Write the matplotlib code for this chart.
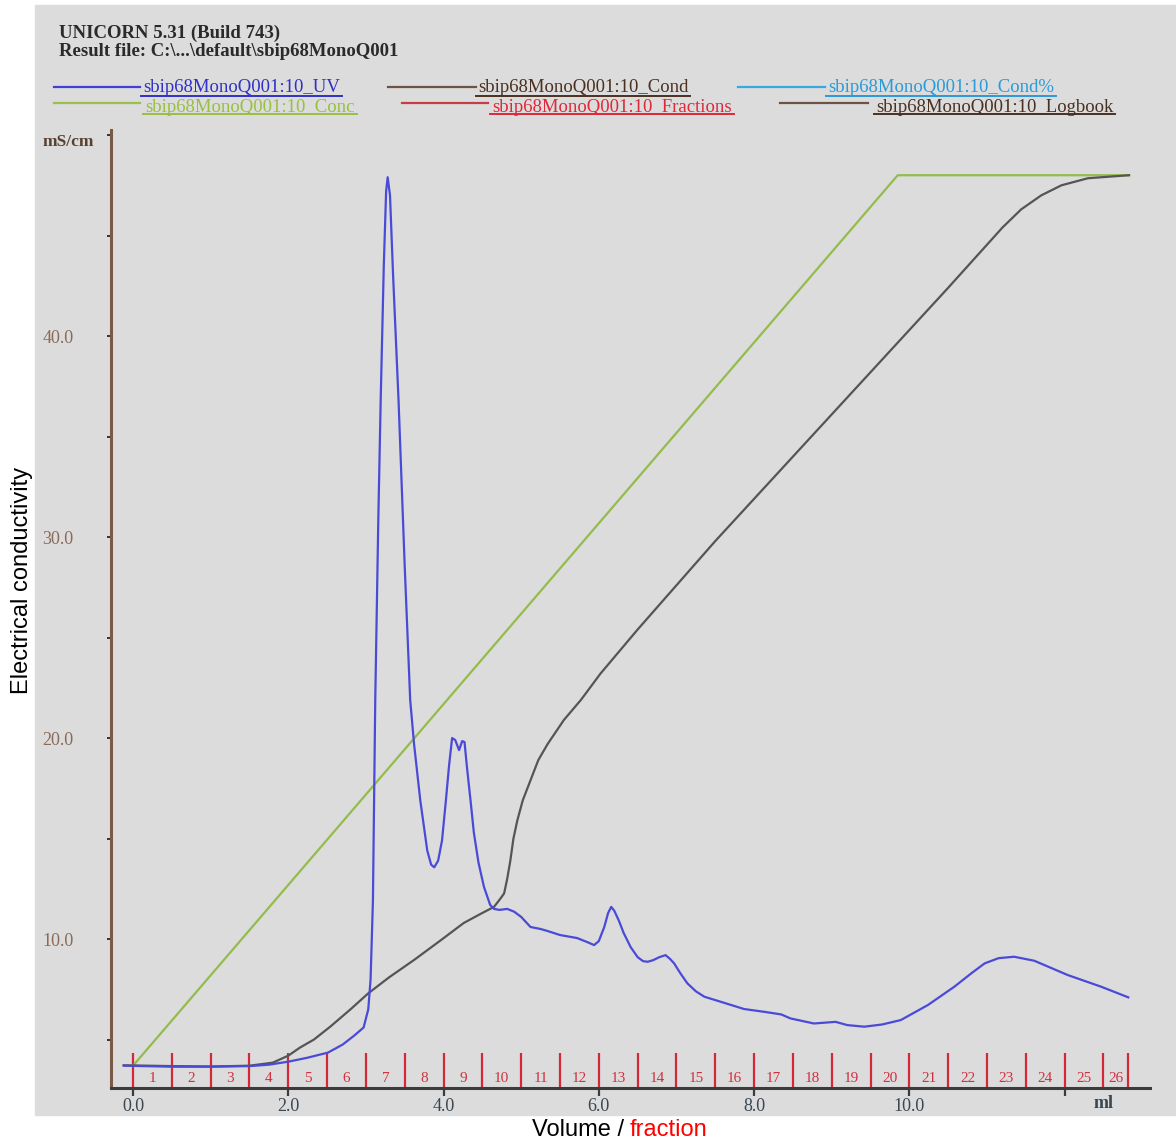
import matplotlib
matplotlib.use("Agg")
import matplotlib.pyplot as plt
from matplotlib.patches import Rectangle

# UV trace (volume in ml, value on the mS/cm scale)
uv_ml = [-0.12, 0.5, 1.0, 1.5, 1.75, 2.0, 2.25, 2.51, 2.7, 2.85, 2.97, 3.03, 3.06, 3.09,
         3.12, 3.16, 3.19, 3.23, 3.26, 3.28, 3.31, 3.35, 3.42, 3.50, 3.57, 3.62, 3.70,
         3.79, 3.84, 3.88, 3.93, 3.98, 4.03, 4.07, 4.11, 4.15, 4.20, 4.24, 4.27, 4.30,
         4.35, 4.39, 4.45, 4.52, 4.60, 4.65, 4.72, 4.82, 4.91, 5.0, 5.12, 5.25, 5.34,
         5.5, 5.72, 5.85, 5.94, 6.0, 6.07, 6.12, 6.16, 6.2, 6.26, 6.32, 6.41, 6.50,
         6.57, 6.63, 6.70, 6.78, 6.86, 6.92, 6.97, 7.05, 7.14, 7.25, 7.36, 7.57, 7.87,
         8.13, 8.35, 8.47, 8.77, 9.05, 9.2, 9.42, 9.65, 9.89, 10.24, 10.58, 10.8,
         10.97, 11.15, 11.35, 11.61, 12.04, 12.47, 12.82]
uv_val = [3.7, 3.65, 3.65, 3.68, 3.75, 3.9, 4.1, 4.35, 4.75, 5.2, 5.6, 6.5, 8.0, 11.9,
          21.9, 31.0, 36.8, 43.5, 47.2, 47.9, 47.0, 43.0, 36.8, 28.5, 21.9, 19.7, 16.9,
          14.4, 13.7, 13.57, 13.9, 14.9, 16.9, 18.6, 20.0, 19.9, 19.4, 19.85, 19.8, 18.6,
          16.8, 15.3, 13.8, 12.6, 11.7, 11.5, 11.45, 11.5, 11.36, 11.1, 10.6, 10.5, 10.4,
          10.2, 10.05, 9.85, 9.7, 9.9, 10.6, 11.3, 11.6, 11.4, 10.9, 10.3, 9.6, 9.1,
          8.9, 8.87, 8.95, 9.1, 9.2, 9.0, 8.79, 8.3, 7.8, 7.4, 7.13, 6.88, 6.52,
          6.38, 6.25, 6.05, 5.8, 5.88, 5.72, 5.64, 5.75, 5.97, 6.72, 7.63, 8.3,
          8.79, 9.05, 9.12, 8.92, 8.21, 7.63, 7.1]

# conductivity trace
cond_ml = [-0.12, 0.5, 1.0, 1.5, 1.8, 2.0, 2.15, 2.33, 2.54, 2.8, 3.03, 3.3, 3.62, 3.95,
           4.26, 4.5, 4.65, 4.73, 4.78, 4.82, 4.86, 4.90, 4.95, 5.02, 5.12, 5.22, 5.34,
           5.55, 5.77, 6.02, 6.5, 7.0, 7.5, 8.0, 8.5, 9.0, 9.5, 10.0, 10.5, 10.92, 11.2,
           11.44, 11.7, 11.96, 12.3, 12.83]
cond_val = [3.72, 3.68, 3.66, 3.7, 3.85, 4.2, 4.6, 5.0, 5.64, 6.5, 7.3, 8.1, 8.96, 9.9,
            10.8, 11.3, 11.6, 12.0, 12.27, 13.0, 13.9, 15.0, 15.9, 16.9, 17.9, 18.9, 19.7,
            20.9, 21.9, 23.2, 25.4, 27.6, 29.8, 31.9, 34.0, 36.1, 38.2, 40.3, 42.4, 44.2,
            45.4, 46.3, 47.0, 47.5, 47.85, 48.0]

# concentration (gradient) trace
conc_ml = [0.0, 9.85, 12.83]
conc_val = [3.7, 48.0, 48.0]

# fraction boundaries (ml) and names
frac_edges = [0.0, 0.5, 1.0, 1.5, 2.0, 2.5, 3.0, 3.5, 4.0, 4.5, 5.0, 5.5, 6.0, 6.5,
              7.0, 7.5, 8.0, 8.5, 9.0, 9.5, 10.0, 10.5, 11.0, 11.5, 12.0, 12.5, 12.82]
frac_names = ["1", "2", "3", "4", "5", "6", "7", "8", "9", "10", "11", "12", "13",
              "14", "15", "16", "17", "18", "19", "20", "21", "22", "23", "24", "25", "26"]

x_ticks = [0, 2, 4, 6, 8, 10, 12]
x_tick_labels = ["0.0", "2.0", "4.0", "6.0", "8.0", "10.0", ""]
y_ticks = [10, 20, 30, 40]
y_tick_labels = ["10.0", "20.0", "30.0", "40.0"]
y_minor = [5, 15, 25, 35, 45, 50]

legend_names = ["sbip68MonoQ001:10_UV", "sbip68MonoQ001:10_Cond", "sbip68MonoQ001:10_Cond%",
                "sbip68MonoQ001:10_Conc", "sbip68MonoQ001:10_Fractions", "sbip68MonoQ001:10_Logbook"]
legend_line_colors = ["#4040d8", "#6e5242", "#38a8e0", "#9cc050", "#c83c48", "#6e5242"]
legend_text_colors = ["#3030c8", "#4a3020", "#2a9ad8", "#98c040", "#e02838", "#4a3020"]

W, H = 1176, 1141
serif = "Liberation Serif"

fig = plt.figure(figsize=(W / 100, H / 100), dpi=100)
fig.patch.set_facecolor("white")

bg = fig.add_axes([0, 0, 1, 1])
bg.set_xlim(0, W)
bg.set_ylim(H, 0)
bg.axis("off")
bg.add_patch(Rectangle((35, 5), W - 35, 1110, color="#dcdcdc", zorder=0))

# header
bg.text(59, 33, "UNICORN 5.31 (Build 743)", family=serif, fontsize=13.5,
        color="#2a2a2a", va="center", ha="left", weight="bold")
bg.text(59, 51, "Result file: C:\\...\\default\\sbip68MonoQ001", family=serif, fontsize=13.5,
        color="#2a2a2a", va="center", ha="left", weight="bold")

# legend (two rows, three columns)
line_x = [(54, 140), (388, 476), (738, 825), (54, 140), (402, 488), (780, 868)]
text_x = [143, 478, 828, 145, 492, 876]
rows_y = [(87, 88, 96), (103, 107, 114)]
texts = []
for i, name in enumerate(legend_names):
    ly, ty, uy = rows_y[i // 3]
    bg.plot(line_x[i], [ly, ly], color=legend_line_colors[i], lw=1.6)
    t = bg.text(text_x[i], ty, name, family=serif, fontsize=13.5, color=legend_text_colors[i],
                va="center", ha="left")
    texts.append((t, uy, legend_text_colors[i]))
fig.canvas.draw()
inv = bg.transData.inverted()
for t, uy, c in texts:
    bb = t.get_window_extent()
    (x0, _), (x1, _) = inv.transform([[bb.x0, bb.y0], [bb.x1, bb.y1]])
    bg.plot([x0 - 2, x1 + 2], [uy, uy], color=c, lw=1.4)

bg.text(68, 142, "mS/cm", family=serif, fontsize=12.5, color="#5a4030",
        va="center", ha="center", weight="bold")
bg.text(22, 580, "Electrical conductivity", family="Liberation Sans", fontsize=17,
        rotation=90, va="center", ha="center", color="black")
bg.text(624, 1130, "Volume /", family="Liberation Sans", fontsize=17,
        va="center", ha="right", color="black")
bg.text(630, 1130, "fraction", family="Liberation Sans", fontsize=17,
        va="center", ha="left", color="red")

# main chart
ax = fig.add_axes([111 / W, 1 - 1088 / H, (1150 - 111) / W, (1088 - 130) / H])
ax.patch.set_alpha(0)
ax.set_xlim(-0.284, 13.1)
ax.set_ylim(2.59, 50.25)

ax.plot(conc_ml, conc_val, color="#94bc4c", lw=1.6, zorder=3)
ax.plot(cond_ml, cond_val, color="#555555", lw=1.6, zorder=4)
ax.plot(uv_ml, uv_val, color="#4a4ad8", lw=1.6, zorder=5)

ax.vlines(frac_edges, 2.59, 4.35, color="#d42838", lw=1.6, zorder=2)
for a, b, name in zip(frac_edges[:-1], frac_edges[1:], frac_names):
    ax.text((a + b) / 2, 3.08, name, family=serif, fontsize=11, color="#d03040",
            ha="center", va="center", zorder=2)

for s in ["top", "right"]:
    ax.spines[s].set_visible(False)
ax.spines["left"].set_color("#7b5a45")
ax.spines["left"].set_linewidth(2.2)
ax.spines["bottom"].set_color("#3c3c3c")
ax.spines["bottom"].set_linewidth(2.2)

ax.set_xticks(x_ticks, x_tick_labels)
ax.set_yticks(y_ticks, y_tick_labels)
ax.set_yticks(y_minor, minor=True)
ax.tick_params(axis="x", length=6, width=1.6, color="#3c3c3c", pad=1,
               labelsize=13, labelcolor="#3a4650")
ax.tick_params(axis="y", which="both", length=3, width=1.4, color="#3c3030", pad=24,
               labelsize=13, labelcolor="#8a6a58")
for lab in ax.get_xticklabels() + ax.get_yticklabels():
    lab.set_family(serif)
ml_label = ax.text(12.5, 1.84, "ml", family=serif, fontsize=13, color="#3a4650",
                   weight="bold", ha="center", va="center")
ml_label.set_clip_on(False)

fig.savefig("out.png", dpi=100, facecolor="white")
